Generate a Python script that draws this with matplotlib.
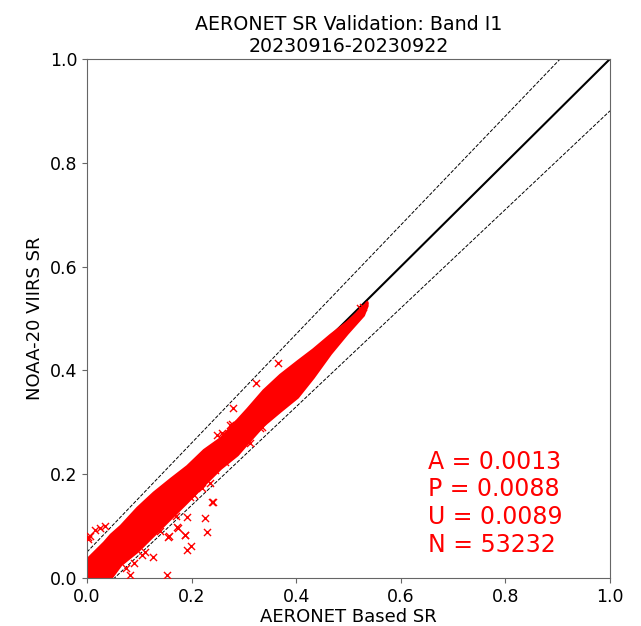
import matplotlib
matplotlib.use('Agg')
import matplotlib.pyplot as plt
import numpy as np

# dense part of the cloud (x, lower y, upper y)
cloud_x = [0.0, 0.032, 0.045, 0.064, 0.096, 0.127, 0.159, 0.191, 0.223, 0.255,
           0.287, 0.306, 0.337, 0.369, 0.402, 0.432, 0.465, 0.497, 0.528, 0.535]
cloud_lo = [0.0, 0.0, 0.0, 0.026, 0.052, 0.083, 0.115, 0.147, 0.18, 0.212,
            0.238, 0.26, 0.295, 0.322, 0.349, 0.387, 0.433, 0.472, 0.507, 0.525]
cloud_hi = [0.037, 0.069, 0.084, 0.101, 0.136, 0.165, 0.191, 0.216, 0.247, 0.27,
            0.305, 0.326, 0.362, 0.392, 0.418, 0.441, 0.469, 0.494, 0.523, 0.532]

# scattered points outside the dense part
out_x = [0.365, 0.323, 0.279, 0.277, 0.249, 0.264, 0.245, 0.235, 0.22,
         0.241, 0.226, 0.229, 0.197, 0.191, 0.174, 0.187, 0.198, 0.191,
         0.155, 0.127, 0.153, 0.083, 0.089, 0.335, 0.312, 0.331, 0.172, 0.156,
         0.188, 0.239, 0.274, 0.258,
         0.016, 0.025, 0.035, 0.006, 0.002, 0.002, 0.528, 0.522,
         0.075, 0.11, 0.14, 0.17, 0.205, 0.105]
out_y = [0.414, 0.376, 0.328, 0.297, 0.276, 0.224, 0.208, 0.183, 0.173,
         0.147, 0.115, 0.089, 0.156, 0.118, 0.096, 0.083, 0.061, 0.054,
         0.079, 0.041, 0.006, 0.006, 0.028, 0.291, 0.26, 0.289, 0.099, 0.08,
         0.083, 0.147, 0.295, 0.279,
         0.092, 0.096, 0.1, 0.08, 0.075, 0.079, 0.522, 0.52,
         0.02, 0.05, 0.09, 0.12, 0.16, 0.044]

stats = {'A': '0.0013', 'P': '0.0088', 'U': '0.0089', 'N': '53232'}
title = 'AERONET SR Validation: Band I1\n20230916-20230922'

fig = plt.figure(figsize=(6.41, 6.26), dpi=100)
ax = fig.add_axes([0.1357, 0.0767, 0.8159, 0.8291])

line = np.array([0.0, 1.0])
ax.plot(line, line, 'k-', lw=1.5, zorder=1)
ax.plot(line, 0.05 + 1.05 * line, 'k--', lw=0.7, zorder=1)
ax.plot(line, -0.05 + 0.95 * line, 'k--', lw=0.7, zorder=1)

ax.fill_between(cloud_x, cloud_lo, cloud_hi, color='red', lw=2,
                edgecolor='red', zorder=2)
ax.scatter(out_x, out_y, marker='x', color='red', s=26, lw=1, zorder=3)

ax.text(0.652, 0.05, '\n'.join(k + ' = ' + v for k, v in stats.items()),
        color='red', fontsize=17, ha='left', va='baseline')

ax.set_xlim(0, 1)
ax.set_ylim(0, 1)
ax.set_xticks([0, 0.2, 0.4, 0.6, 0.8, 1.0])
ax.set_yticks([0, 0.2, 0.4, 0.6, 0.8, 1.0])
for sp in ax.spines.values():
    sp.set_color('0.4')
ax.tick_params(labelsize=12.5, color='0.4')
ax.set_xlabel('AERONET Based SR', fontsize=13, labelpad=2)
ax.set_ylabel('NOAA-20 VIIRS SR', fontsize=13)
ax.set_title(title, fontsize=13.7, pad=5)

fig.savefig('out.png', dpi=100)
